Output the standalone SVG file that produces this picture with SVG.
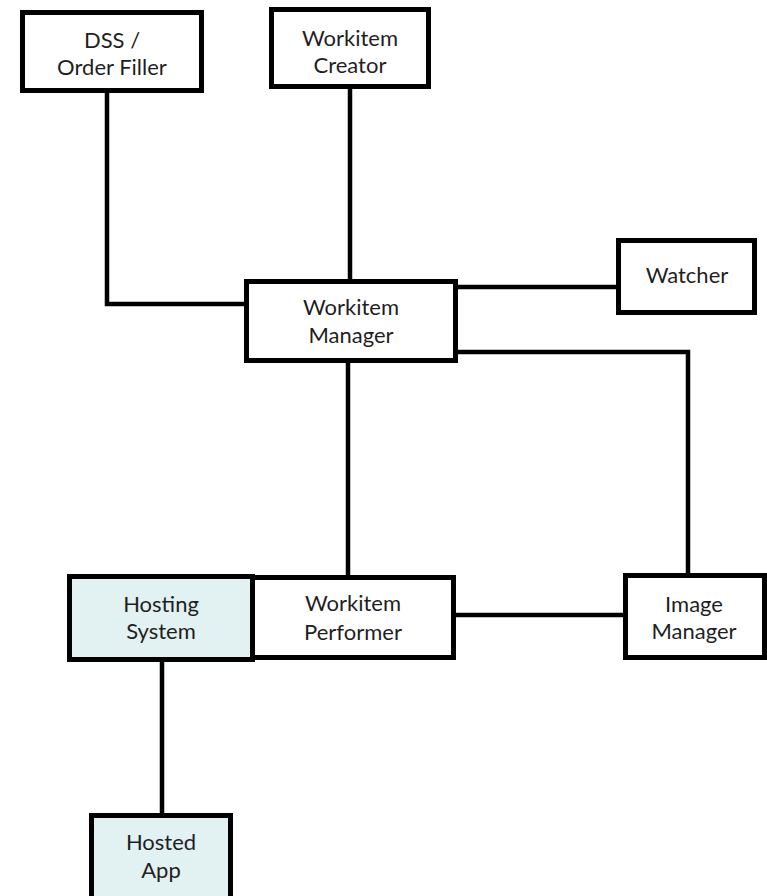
<svg xmlns="http://www.w3.org/2000/svg" width="767" height="896" viewBox="0 0 767 896">
<style>
.box{fill:#ffffff;stroke:#000000;stroke-width:5}
.host{fill:#e2f1f1;stroke:#000000;stroke-width:5}
.lbl{font-family:Lato,"Open Sans","Liberation Sans",sans-serif;font-size:22px;fill:#1f1f1f;text-anchor:middle}
.conn{fill:none;stroke:#000000;stroke-width:4.5}
</style>
<rect width="767" height="896" fill="#ffffff"/>
<g id="connectors">
<path class="conn" d="M107 92 V304 H246"/>
<path class="conn" d="M350 88 V282"/>
<path class="conn" d="M457 287 H618"/>
<path class="conn" d="M457 352 H688 V575"/>
<path class="conn" d="M348 362 V577"/>
<path class="conn" d="M455 615 H625"/>
<path class="conn" d="M162 661 V815"/>
</g>
<g id="dss">
<rect class="box" x="22.5" y="12.5" width="179" height="78"/>
<text class="lbl" x="112" y="48">DSS /</text>
<text class="lbl" x="112" y="75">Order Filler</text>
</g>
<g id="creator">
<rect class="box" x="271.5" y="9.5" width="157" height="77"/>
<text class="lbl" x="350" y="46">Workitem</text>
<text class="lbl" x="350" y="73">Creator</text>
</g>
<g id="manager">
<rect class="box" x="246.5" y="281.5" width="209" height="79"/>
<text class="lbl" x="351" y="315">Workitem</text>
<text class="lbl" x="351" y="343">Manager</text>
</g>
<g id="watcher">
<rect class="box" x="618.5" y="240.5" width="136" height="72"/>
<text class="lbl" x="687" y="283">Watcher</text>
</g>
<g id="hosting">
<rect class="host" x="69.5" y="576.5" width="183" height="83"/>
<text class="lbl" x="161" y="612">Hosting</text>
<text class="lbl" x="161" y="639">System</text>
</g>
<g id="performer">
<rect class="box" x="252.5" y="577.5" width="201" height="80"/>
<text class="lbl" x="353" y="611">Workitem</text>
<text class="lbl" x="353" y="640">Performer</text>
</g>
<g id="image">
<rect class="box" x="625.5" y="575.5" width="139" height="82"/>
<text class="lbl" x="694" y="612">Image</text>
<text class="lbl" x="694" y="639">Manager</text>
</g>
<g id="hosted">
<rect class="host" x="91.5" y="815.5" width="139" height="90"/>
<text class="lbl" x="161" y="850">Hosted</text>
<text class="lbl" x="161" y="878">App</text>
</g>
</svg>
